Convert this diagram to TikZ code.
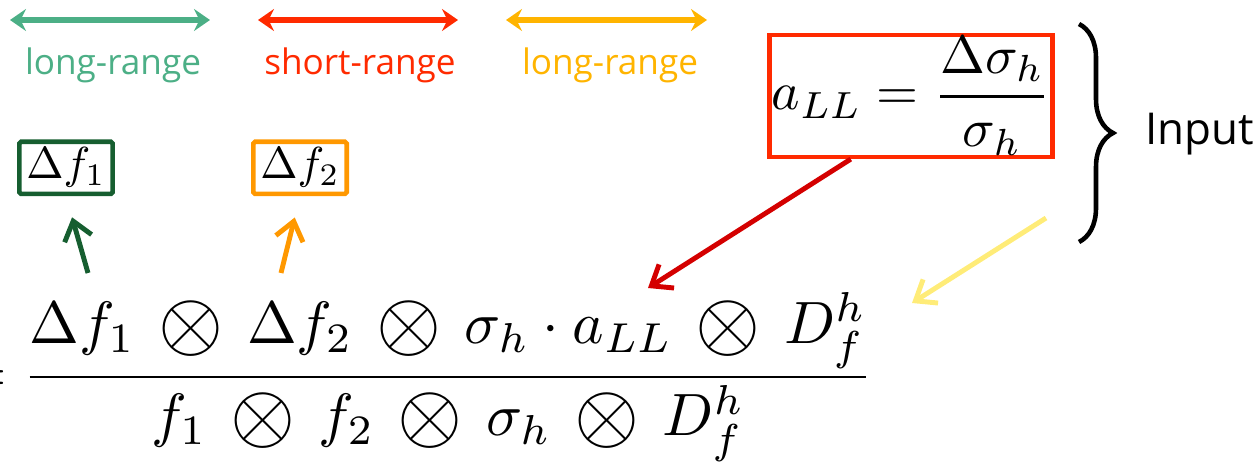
\documentclass[tikz,border=0pt]{standalone}
\usepackage{graphicx}
\usepackage{fontspec}
\setsansfont{Open Sans}
\usetikzlibrary{arrows.meta,decorations.pathreplacing,positioning,calc}

\definecolor{lrgreen}{RGB}{76,175,134}
\definecolor{srred}{RGB}{255,42,0}
\definecolor{lryellow}{RGB}{255,180,0}
\definecolor{boxgreen}{RGB}{22,94,48}
\definecolor{boxorange}{RGB}{255,152,0}
\definecolor{arrred}{RGB}{212,0,0}
\definecolor{arryellow}{RGB}{255,236,120}

\newcommand{\bigmath}[1]{\scalebox{3.07}{$\displaystyle #1$}}
\newcommand{\ratiomath}[1]{\scalebox{3.4}{$\displaystyle #1$}}
\newcommand{\midmath}[1]{\scalebox{2.55}{$#1$}}
\newcommand{\bigox}{\,\mathbin{\raisebox{-1pt}{\scalebox{1.4}{$\otimes$}}}\,}
\newcommand{\rangefont}{\sffamily\fontsize{20}{24}\selectfont}

\tikzset{
	rangearrow/.style={line width=3pt, {Stealth[length=0.32cm,width=0.44cm,inset=0.11cm]}-{Stealth[length=0.32cm,width=0.44cm,inset=0.11cm]}},
	pointer/.style={line width=2.8pt, -{Straight Barb[length=0.36cm,width=0.56cm]}},
	termbox/.style={draw, line width=2.6pt, rounded corners=1pt, inner xsep=4pt, inner ysep=3.5pt, anchor=base}
}

\begin{document}
\begin{tikzpicture}[x=0.02cm,y=-0.02cm]
	\useasboundingbox (0,0) rectangle (1260,462);
	
	\coordinate (gL) at (10,20);
	\coordinate (gR) at (210,20);
	\coordinate (rL) at (258,20);
	\coordinate (rR) at (458,20);
	\coordinate (yL) at (506,20);
	\coordinate (yR) at (707,20);
	\coordinate (gStart) at (88,273);
	\coordinate (oStart) at (281,273);
	\coordinate (rTip) at (648,288);
	\coordinate (yStart) at (1046,218);
	\coordinate (yTip) at (912,303);
	\coordinate (braceTop) at (1079,24);
	\coordinate (braceBot) at (1079,242);
	
	% Range arrows
	\draw[rangearrow, lrgreen] (gL) -- (gR);
	\draw[rangearrow, srred] (rL) -- (rR);
	\draw[rangearrow, lryellow] (yL) -- (yR);
	
	\node[lrgreen, font=\rangefont] (lrLeft) at (113,65) {long-range};
	\node[srred, font=\rangefont] (srMid) at (360,65) {short-range};
	\node[lryellow, font=\rangefont] (lrRight) at (610,65) {long-range};
	
	% Terms
	\node[termbox, draw=boxgreen] (df1) at (66,179) {\midmath{\Delta f_1}};
	\node[termbox, draw=boxorange] (df2) at (300,179) {\midmath{\Delta f_2}};
	\node[draw=srred, line width=2.6pt, inner sep=1pt, anchor=base] (aLL) at (911,110)
		{\bigmath{a_{LL} = \frac{\Delta\sigma_h}{\sigma_h}}};
	
	% Main ratio
	\node[anchor=base] (ratio) at (448,392)
		{\ratiomath{\frac{\Delta f_1 \bigox \Delta f_2 \bigox \sigma_h\cdot a_{LL} \bigox D_f^h}{f_1 \bigox f_2 \bigox \sigma_h \bigox D_f^h}}};
	\node[anchor=base east, inner sep=0pt] (eq) at (7,392) {\ratiomath{=}};
	
	% Pointers
	\draw[pointer, boxgreen, shorten >=0.44cm] (gStart) -- (df1.south);
	\draw[pointer, boxorange, shorten >=0.44cm] (oStart) -- (df2.south);
	\draw[pointer, arrred] ($(aLL.south west)!0.29!(aLL.south east)$) -- (rTip);
	\draw[pointer, arryellow] (yStart) -- (yTip);
	
	% Input brace
	\draw[line width=2.6pt, decorate, decoration={brace, amplitude=0.68cm, aspect=0.5}] (braceTop) -- (braceBot);
	\node[font=\sffamily\fontsize{25}{29}\selectfont] (input) at (1200,134) {Input};
	
\end{tikzpicture}
\end{document}
